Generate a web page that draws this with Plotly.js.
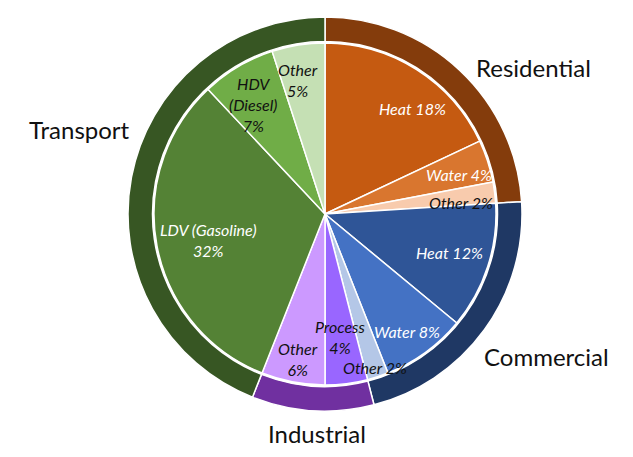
<!DOCTYPE html>
<html>
<head>
<meta charset="utf-8">
<script src="https://cdn.plot.ly/plotly-3.0.1.min.js"></script>
<style>html,body{margin:0;padding:0;background:#fff;}#chart{width:633px;height:457px;}</style>
</head>
<body>
<div id="chart"></div>
<script>
// Data
const categories = ['Residential', 'Commercial', 'Industrial', 'Transport'];
const categoryValues = [24, 22, 10, 44];
const subLabels = ['Heat', 'Water', 'Other', 'Heat', 'Water', 'Other', 'Process', 'Other', 'LDV (Gasoline)', 'HDV (Diesel)', 'Other'];
const subParents = ['Residential', 'Residential', 'Residential', 'Commercial', 'Commercial', 'Commercial', 'Industrial', 'Industrial', 'Transport', 'Transport', 'Transport'];
const subValues = [18, 4, 2, 12, 8, 2, 4, 6, 32, 7, 5];

// Styles
const ringColors = ['#843C0C', '#1F3864', '#7030A0', '#375623'];
const subColors = ['#C55A11', '#D9762F', '#F8CBAD', '#2F5597', '#4472C4', '#B4C7E7', '#9966FF', '#CC99FF', '#548235', '#70AD47', '#C5E0B4'];
const subTextColors = ['#fff', '#fff', '#111', '#fff', '#fff', '#111', '#111', '#111', '#fff', '#111', '#111'];

const W = 633, H = 457;
const cx = 325, cy = 214;      // pixel centre (from top)
const Rout = 197, Rin = 171;
function dom(r) {
  return {
    x: [(cx - r) / W, (cx + r) / W],
    y: [(H - cy - r) / H, (H - cy + r) / H]
  };
}

const ring = {
  type: 'pie', labels: categories, values: categoryValues,
  sort: false, direction: 'clockwise', rotation: 0,
  hole: 172.5 / Rout, domain: dom(Rout),
  marker: { colors: ringColors, line: { color: '#ffffff', width: 1.5 } },
  textinfo: 'none', hoverinfo: 'none', showlegend: false
};
const inner = {
  type: 'pie', labels: subLabels.map((l, i) => subParents[i] + ' ' + l), values: subValues,
  sort: false, direction: 'clockwise', rotation: 0,
  domain: dom(Rin),
  marker: { colors: subColors, line: { color: '#ffffff', width: 1.5 } },
  textinfo: 'none', hoverinfo: 'none', showlegend: false
};

// label text (built from data) and pixel position
const subText = subLabels.map((l, i) => {
  const p = subValues[i] + '%';
  if (i === 6 || i === 7 || i === 10 || i === 8) return l + '<br>' + p;
  if (i === 9) return l.replace(' ', '<br>') + '<br>' + p;
  return l + ' ' + p;
});
const subPos = [[412, 108], [459, 174], [461, 202], [449, 253], [407, 331], [375, 367], [340, 337], [298, 359], [208, 240], [253, 104], [298, 80]];
const catPos = [[533, 67], [546, 356], [317, 433], [79, 130]];

const annotations = [];
subText.forEach((t, i) => {
  annotations.push({
    xref: 'paper', yref: 'paper', x: subPos[i][0] / W, y: 1 - subPos[i][1] / H,
    xanchor: 'center', yanchor: 'middle', showarrow: false, text: '<i>' + t + '</i>',
    font: { family: 'Lato, "Open Sans", sans-serif', size: 16, color: subTextColors[i] }
  });
});
categories.forEach((c, i) => {
  annotations.push({
    xref: 'paper', yref: 'paper', x: catPos[i][0] / W, y: 1 - catPos[i][1] / H,
    xanchor: 'center', yanchor: 'middle', showarrow: false, text: c,
    font: { family: 'Lato, "Open Sans", sans-serif', size: 24, color: '#111' }
  });
});

const layout = {
  width: W, height: H,
  margin: { l: 0, r: 0, t: 0, b: 0 },
  paper_bgcolor: '#ffffff', plot_bgcolor: '#ffffff',
  showlegend: false,
  annotations: annotations
};
Plotly.newPlot('chart', [ring, inner], layout, { displayModeBar: false, staticPlot: true });
</script>
</body>
</html>
